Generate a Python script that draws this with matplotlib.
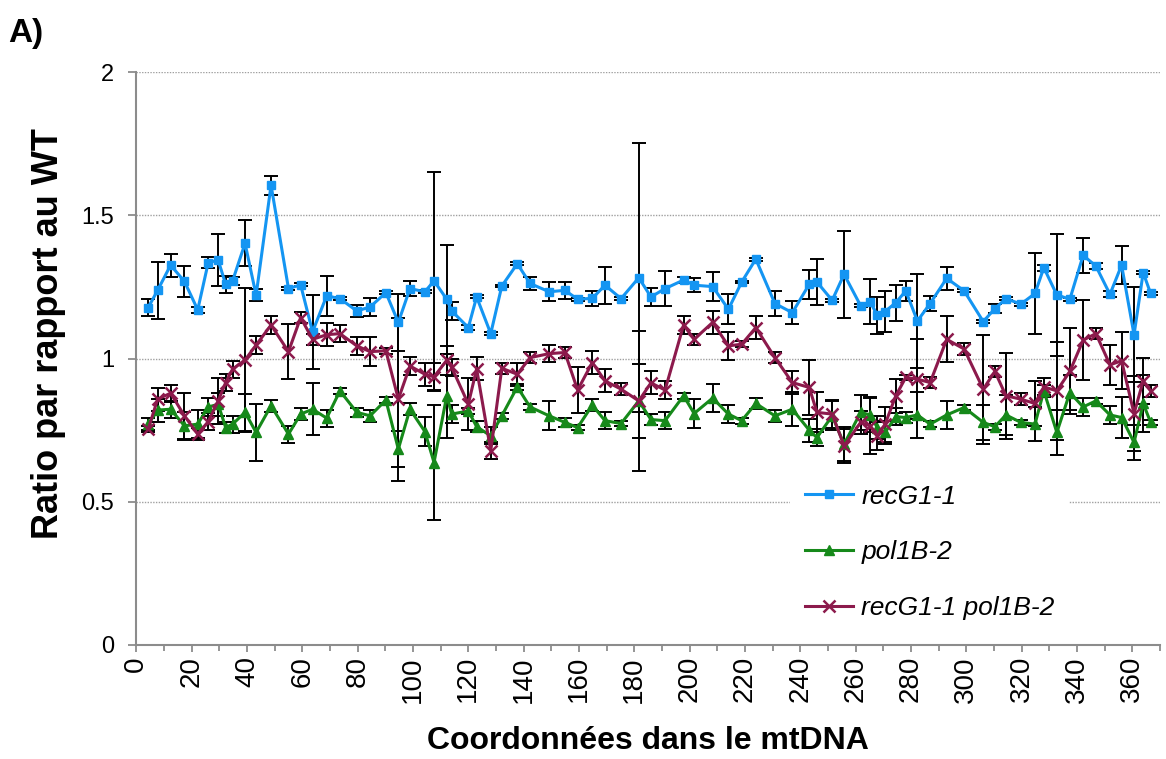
import matplotlib
matplotlib.use("Agg")
import matplotlib.pyplot as plt
from matplotlib.ticker import MultipleLocator, FixedLocator

plt.rcParams['font.family'] = ['Liberation Sans', 'DejaVu Sans']

# Position along the mitochondrial genome (kb)
positions = [4.3, 7.7, 12.4, 17.4, 22.2, 26.0, 29.6, 32.3, 34.8, 39.3,
             43.3, 48.7, 55.0, 59.4, 63.7, 68.8, 73.6, 79.7, 84.5, 90.2,
             94.7, 98.9, 104.3, 107.6, 112.2, 114.0, 120.0, 123.0, 128.1, 132.1,
             137.7, 142.3, 149.2, 154.9, 159.5, 164.8, 169.4, 175.2, 181.6, 186.0,
             191.1, 197.8, 201.6, 208.3, 214.0, 218.8, 223.9, 230.8, 237.1, 243.2,
             246.0, 251.5, 255.8, 261.8, 265.2, 267.8, 270.6, 274.5, 278.1, 282.3,
             286.9, 292.9, 299.2, 306.1, 310.3, 314.3, 319.7, 324.8, 328.0, 332.7,
             337.4, 342.2, 346.8, 351.9, 356.1, 360.6, 363.9, 366.6]

recg = [1.178, 1.238, 1.326, 1.269, 1.170, 1.335, 1.343, 1.259, 1.271, 1.402,
        1.221, 1.605, 1.244, 1.257, 1.093, 1.219, 1.209, 1.166, 1.180, 1.230,
        1.126, 1.244, 1.233, 1.271, 1.207, 1.166, 1.108, 1.215, 1.087, 1.253,
        1.331, 1.262, 1.233, 1.238, 1.207, 1.210, 1.256, 1.209, 1.282, 1.215,
        1.244, 1.274, 1.256, 1.251, 1.172, 1.267, 1.347, 1.192, 1.160, 1.259,
        1.267, 1.203, 1.294, 1.184, 1.199, 1.151, 1.164, 1.195, 1.236, 1.131,
        1.192, 1.280, 1.236, 1.129, 1.174, 1.209, 1.190, 1.227, 1.317, 1.222,
        1.207, 1.360, 1.323, 1.224, 1.326, 1.083, 1.300, 1.227]
recg_err = [0.03, 0.10, 0.04, 0.055, 0.01, 0.02, 0.09, 0.03, 0.015, 0.08,
            0.02, 0.033, 0.005, 0.005, 0.13, 0.07, 0.005, 0.02, 0.03, 0.005,
            0.10, 0.025, 0.005, 0.38, 0.19, 0.03, 0.01, 0.005, 0.005, 0.005,
            0.005, 0.023, 0.033, 0.03, 0.005, 0.025, 0.064, 0.005, 0.47, 0.03,
            0.062, 0.01, 0.025, 0.05, 0.052, 0.005, 0.005, 0.043, 0.04, 0.05,
            0.08, 0.005, 0.152, 0.005, 0.08, 0.065, 0.07, 0.063, 0.035, 0.165,
            0.025, 0.04, 0.005, 0.005, 0.015, 0.005, 0.005, 0.14, 0.01, 0.214,
            0.005, 0.062, 0.01, 0.01, 0.065, 0.165, 0.005, 0.005]

pol = [0.771, 0.820, 0.823, 0.765, 0.771, 0.831, 0.840, 0.759, 0.771, 0.812,
       0.742, 0.835, 0.736, 0.806, 0.823, 0.792, 0.887, 0.812, 0.800, 0.855,
       0.684, 0.823, 0.745, 0.637, 0.870, 0.806, 0.817, 0.762, 0.730, 0.800,
       0.901, 0.831, 0.800, 0.777, 0.759, 0.837, 0.783, 0.773, 0.852, 0.787,
       0.783, 0.870, 0.808, 0.862, 0.806, 0.783, 0.843, 0.800, 0.823, 0.750,
       0.724, 0.800, 0.701, 0.812, 0.803, 0.759, 0.742, 0.797, 0.794, 0.803,
       0.771, 0.803, 0.829, 0.777, 0.762, 0.803, 0.777, 0.771, 0.887, 0.742,
       0.881, 0.831, 0.852, 0.803, 0.794, 0.707, 0.843, 0.777]
pol_err = [0.02, 0.04, 0.03, 0.05, 0.05, 0.03, 0.04, 0.02, 0.03, 0.064,
           0.10, 0.02, 0.03, 0.02, 0.09, 0.03, 0.01, 0.015, 0.02, 0.01,
           0.062, 0.02, 0.05, 0.20, 0.146, 0.03, 0.01, 0.02, 0.03, 0.01,
           0.01, 0.01, 0.05, 0.015, 0.01, 0.02, 0.03, 0.01, 0.13, 0.02,
           0.03, 0.01, 0.05, 0.05, 0.03, 0.01, 0.02, 0.02, 0.06, 0.04,
           0.03, 0.05, 0.06, 0.06, 0.06, 0.04, 0.04, 0.03, 0.02, 0.08,
           0.01, 0.05, 0.01, 0.06, 0.01, 0.07, 0.01, 0.06, 0.02, 0.08,
           0.06, 0.03, 0.01, 0.03, 0.07, 0.06, 0.10, 0.01]

double = [0.753, 0.858, 0.879, 0.800, 0.736, 0.780, 0.852, 0.916, 0.963, 0.995,
          1.047, 1.117, 1.024, 1.143, 1.067, 1.083, 1.087, 1.044, 1.024, 1.027,
          0.858, 0.974, 0.945, 0.936, 0.994, 0.969, 0.841, 0.964, 0.678, 0.966,
          0.945, 1.003, 1.017, 1.021, 0.890, 0.986, 0.922, 0.893, 0.852, 0.915,
          0.890, 1.117, 1.067, 1.126, 1.044, 1.050, 1.108, 1.003, 0.916, 0.899,
          0.812, 0.806, 0.695, 0.777, 0.765, 0.730, 0.770, 0.870, 0.934, 0.928,
          0.916, 1.067, 1.033, 0.893, 0.955, 0.870, 0.858, 0.843, 0.901, 0.887,
          0.955, 1.064, 1.087, 0.978, 0.992, 0.808, 0.922, 0.887]
double_err = [0.01, 0.04, 0.03, 0.08, 0.02, 0.03, 0.08, 0.03, 0.03, 0.25,
              0.03, 0.03, 0.095, 0.02, 0.02, 0.04, 0.03, 0.03, 0.05, 0.01,
              0.285, 0.03, 0.04, 0.05, 0.05, 0.03, 0.09, 0.04, 0.03, 0.02,
              0.04, 0.02, 0.03, 0.02, 0.08, 0.04, 0.04, 0.02, 0.245, 0.04,
              0.03, 0.03, 0.02, 0.04, 0.05, 0.01, 0.04, 0.02, 0.04, 0.095,
              0.07, 0.05, 0.06, 0.04, 0.10, 0.05, 0.06, 0.06, 0.01, 0.14,
              0.02, 0.08, 0.02, 0.19, 0.02, 0.15, 0.02, 0.08, 0.03, 0.17,
              0.15, 0.14, 0.02, 0.07, 0.10, 0.13, 0.08, 0.02]

labels = ["recG1-1", "pol1B-2", "recG1-1 pol1B-2"]
colors = ["#1495F2", "#16891A", "#8C1A4C"]
y_ticks = [0, 0.5, 1, 1.5, 2]
y_ticklabels = ["0", "0.5", "1", "1.5", "2"]

fig = plt.figure(figsize=(11.66, 7.59), dpi=100)
ax = fig.add_axes([0.1169, 0.1502, 0.8780, 0.7549])

series = [(recg, recg_err, 's', 6, 1.0),
          (pol, pol_err, '^', 6.5, 1.0),
          (double, double_err, 'x', 8, 1.8)]

for (vals, errs, mk, ms, mew), lab, col in zip(series, labels, colors):
    ax.errorbar(positions, vals, yerr=errs, fmt='none', ecolor='black',
                elinewidth=1.4, capsize=5, capthick=1.4, zorder=2)
    ax.plot(positions, vals, color=col, linewidth=2.2, marker=mk,
            markersize=ms, markeredgewidth=mew, markeredgecolor=col,
            markerfacecolor=col, label=lab, zorder=3)

ax.set_xlim(0, 370)
ax.set_ylim(0, 2)
ax.xaxis.set_major_locator(MultipleLocator(20))
ax.xaxis.set_minor_locator(MultipleLocator(10))
ax.yaxis.set_major_locator(FixedLocator(y_ticks))
ax.set_yticklabels(y_ticklabels)

for yv in y_ticks[1:]:
    ax.axhline(yv, color='#A0A0A0', linewidth=1.0, linestyle=(0, (1, 1)), zorder=1)

for side in ['top', 'right']:
    ax.spines[side].set_visible(False)
for side in ['left', 'bottom']:
    ax.spines[side].set_color('#8C8C8C')
    ax.spines[side].set_linewidth(1.5)

ax.tick_params(axis='x', which='major', direction='out', length=5, width=1.3,
               color='#8C8C8C', labelsize=20, labelrotation=90, pad=3)
ax.tick_params(axis='x', which='minor', direction='out', length=4, width=1.3,
               color='#8C8C8C')
ax.tick_params(axis='y', which='major', direction='out', length=6, width=1.3,
               color='#8C8C8C', labelsize=17, pad=10)

ax.set_xlabel("Coordonnées dans le mtDNA", fontsize=23, fontweight='bold')
ax.set_ylabel("Ratio par rapport au WT", fontsize=26, fontweight='bold')
ax.xaxis.label.set_va('center')
ax.yaxis.label.set_va('center')
ax.xaxis.set_label_coords(0.5, (645 - 741) / 573)
ax.yaxis.set_label_coords((48 - 136.3) / 1023.7, (645 - 334) / 573)

leg = ax.legend(loc='upper left', bbox_to_anchor=(790 / 1166, 1 - 470 / 759),
                bbox_transform=fig.transFigure, frameon=True, fancybox=False,
                edgecolor='none', facecolor='white', framealpha=1.0,
                prop={'style': 'italic', 'size': 19}, handlelength=1.85,
                handletextpad=0.3, labelspacing=1.2, borderpad=0.55,
                borderaxespad=0)
leg.set_zorder(5)

fig.text(8 / 1166, 1 - 42 / 759, "A)", fontsize=24, fontweight='bold')

fig.savefig("out.png", dpi=100)
